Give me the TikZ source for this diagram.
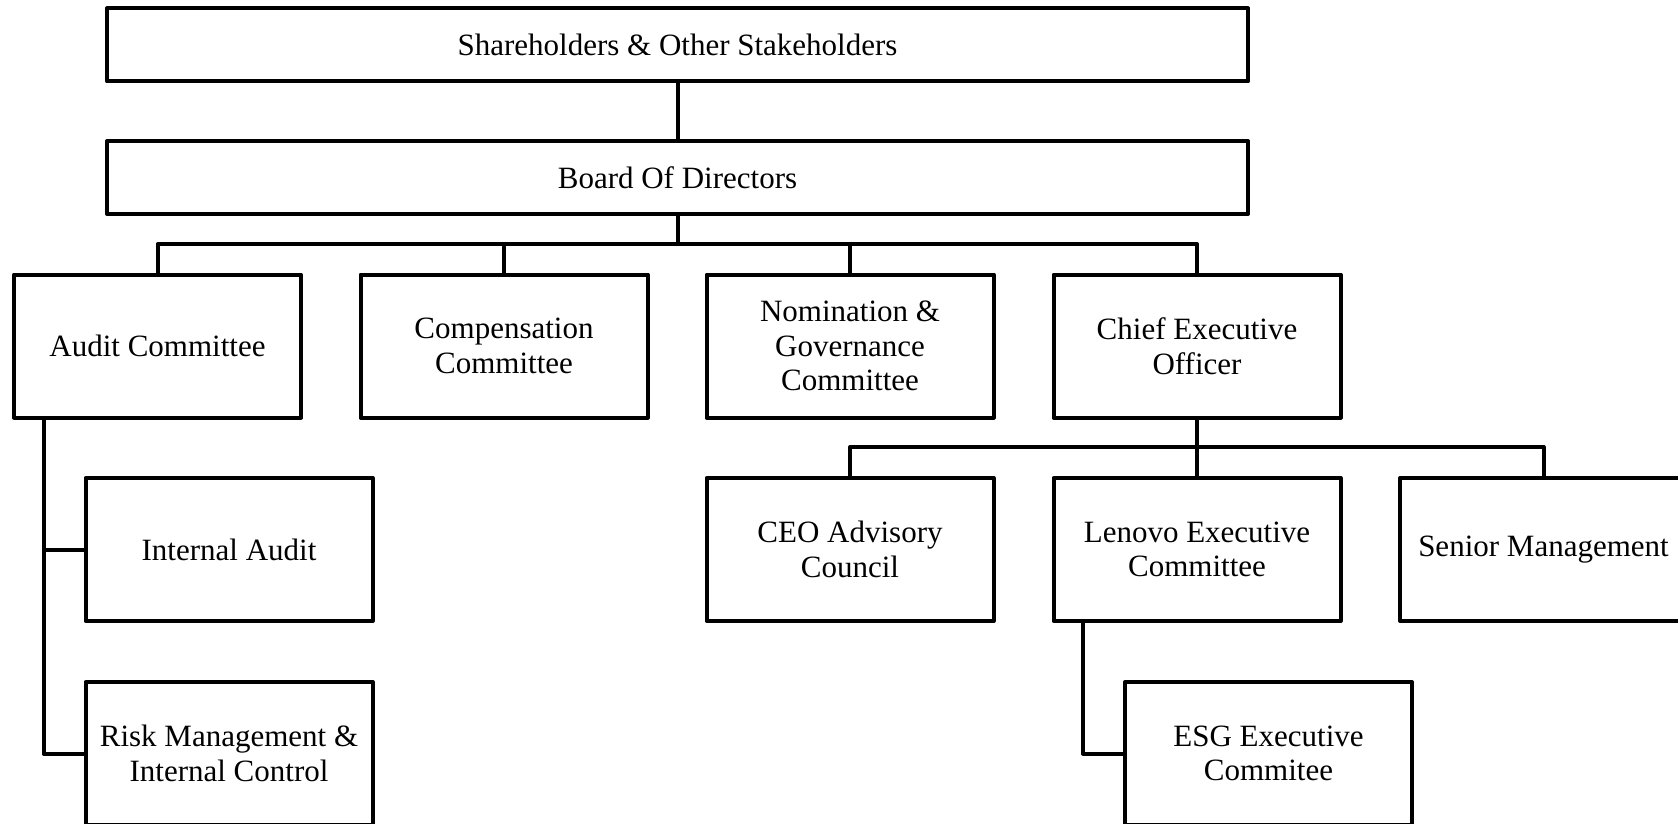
\documentclass[tikz,border=0pt]{standalone}
\usepackage{fontspec}
\setmainfont{Liberation Serif}
\begin{document}
\begin{tikzpicture}[x=1pt,y=-1pt,
  line width=4pt, line join=round,
  orgbox/.style={draw, line width=4pt, align=center, inner sep=0pt,
    font=\fontsize{31}{34.5}\selectfont},
  wide/.style={orgbox, minimum width=1141pt, minimum height=73pt},
  unit/.style={orgbox, minimum width=287pt, minimum height=143pt},
  link/.style={draw, line width=4pt, line join=round}]
\useasboundingbox (0,0) rectangle (1678,824);
\clip (0,0) rectangle (1678,824);

% top levels
\node[wide] (share) at (677.5,45) {Shareholders \& Other Stakeholders};
\node[wide] (board) at (677.5,177.5) {Board Of Directors};

% committees and CEO
\node[unit] (audit) at (157.5,346) {Audit Committee};
\node[unit] (comp)  at (504,346) {Compensation\\Committee};
\node[unit] (nom)   at (850,346) {Nomination \&\\Governance\\Committee};
\node[unit] (ceo)   at (1197,346) {Chief Executive\\Officer};

% audit branch
\node[unit] (iaudit) at (229,549.5) {Internal Audit};
\node[unit] (risk)   at (229,753.5) {Risk Management \&\\Internal Control};

% CEO branch
\node[unit] (cac)    at (850,549.5) {CEO Advisory\\Council};
\node[unit] (lec)    at (1197,549.5) {Lenovo Executive\\Committee};
\node[unit] (senior) at (1543.5,549.5) {Senior Management};
\node[unit] (esg)    at (1268.5,753.5) {ESG Executive\\Commitee};

% bus coordinates
\coordinate (bus1) at (677.5,244);
\coordinate (bus2) at (1197,447);
\coordinate (aud) at (43.5,0);
\coordinate (lenv) at (1083,0);

% connectors
\draw[link] (share.south) -- (board.north);
\draw[link] (board.south) -- (bus1);
\draw[link] (audit.north) -- (audit.north |- bus1) -- (ceo.north |- bus1) -- (ceo.north);
\draw[link] (comp.north) -- (comp.north |- bus1);
\draw[link] (nom.north) -- (nom.north |- bus1);

\draw[link] (ceo.south) -- (lec.north);
\draw[link] (cac.north) -- (cac.north |- bus2) -- (senior.north |- bus2) -- (senior.north);

\draw[link] (aud |- audit.south) -- (aud |- risk.west) -- (risk.west);
\draw[link] (aud |- iaudit.west) -- (iaudit.west);

\draw[link] (lenv |- lec.south) -- (lenv |- esg.west) -- (esg.west);
\end{tikzpicture}
\end{document}
